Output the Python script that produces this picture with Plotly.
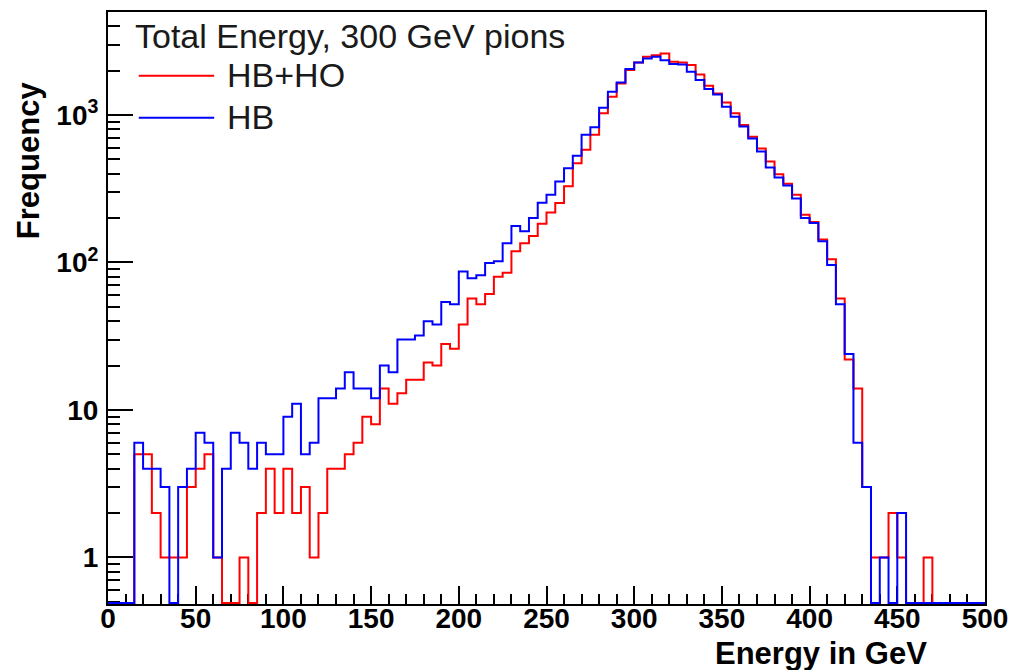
import plotly.graph_objects as go
import numpy as np

# ---- data (bin width 5 GeV, bins start at 0..495) ----
bin_width = 5
x_min, x_max = 0, 500

hb_ho = [0, 0, 0, 5, 5, 2, 1, 1, 1, 3,
         4, 5, 1, 0, 0, 1, 0, 2, 4, 2,
         4, 2, 3, 1, 2, 4, 4, 5, 6, 9,
         8, 14, 11, 13, 16, 16, 21, 20, 28, 26,
         38, 57, 52, 61, 80, 85, 119, 135, 151, 183,
         218, 253, 328, 471, 580, 733, 1025, 1330, 1636, 2014,
         2266, 2477, 2543, 2608, 2291, 2266, 2177, 1880, 1578, 1400,
         1217, 1025, 856, 713, 592, 483, 397, 342, 288, 211,
         188, 143, 105, 57, 22, 14, 3, 1, 1, 2,
         1, 0, 0, 1, 0, 0, 0, 0, 0, 0]

hb = [0, 0, 0, 6, 4, 4, 3, 0, 3, 4,
      7, 6, 1, 4, 7, 6, 4, 6, 5, 5,
      9, 11, 5, 6, 12, 12, 14, 18, 14, 14,
      12, 20, 18, 30, 30, 32, 40, 38, 54, 52,
      87, 78, 82, 99, 102, 135, 177, 163, 200, 254,
      288, 354, 436, 528, 733, 824, 1120, 1436, 1660, 2046,
      2266, 2412, 2477, 2353, 2213, 2198, 1962, 1723, 1498, 1378,
      1138, 974, 834, 692, 565, 441, 377, 333, 271, 200,
      185, 139, 96, 52, 24, 6, 3, 0, 1, 0,
      2, 0, 0, 0, 0, 0, 0, 0, 0, 0]

series_names = ["HB+HO", "HB"]
series_colors = ["#ff0000", "#0000ff"]
legend_title = "Total Energy, 300 GeV pions"

x_ticks = list(range(0, 501, 50))
y_ticks = [1, 10, 100, 1000]
y_tick_text = ["1", "10", "10<sup>2</sup>", "10<sup>3</sup>"]

# ---- layout geometry ----
W, H = 1018, 670
L, R, T, B = 108, 26, 10, 66
ylog_min, ylog_max = -0.3155, 3.698
pw, ph = W - L - R, H - T - B


def px_x(px):
    return (px - L) / pw


def px_y(py):
    return (H - B - py) / ph


edges = np.arange(x_min, x_max + bin_width, bin_width)
floor_val = 10 ** (ylog_min + 1.0 / ph * (ylog_max - ylog_min))

fig = go.Figure()
for name, vals, col in zip(series_names, [hb_ho, hb], series_colors):
    v = [c if c > 0 else floor_val for c in vals]
    v = v + [v[-1]]
    fig.add_trace(go.Scatter(x=edges, y=v, mode="lines", line_shape="hv",
                             line=dict(color=col, width=2), name=name,
                             showlegend=False, hoverinfo="skip"))

tick_font = dict(family="Liberation Sans, Arial, sans-serif", size=28,
                 color="#000000", weight="bold")

fig.update_layout(
    width=W, height=H,
    margin=dict(l=L, r=R, t=T, b=B, pad=0),
    paper_bgcolor="white", plot_bgcolor="white",
    xaxis=dict(range=[x_min, x_max], showgrid=False, zeroline=False,
               showline=True, mirror=True, linecolor="#000000", linewidth=2,
               ticks="inside", ticklen=18, tickwidth=1.5, tickcolor="#000000",
               tickvals=x_ticks, tickfont=tick_font, ticklabelstandoff=-12,
               minor=dict(tickvals=list(range(0, 501, 10)), ticks="inside",
                          ticklen=10, tickwidth=1.5, tickcolor="#000000"),
               layer="below traces"),
    yaxis=dict(type="log", range=[ylog_min, ylog_max], showgrid=False, zeroline=False,
               showline=True, mirror=True, linecolor="#000000", linewidth=2,
               ticks="inside", ticklen=25, tickwidth=1.5, tickcolor="#000000",
               tickvals=y_ticks, ticktext=y_tick_text, tickfont=tick_font,
               ticklabelstandoff=2,
               minor=dict(tickvals=[m * 10 ** e for e in range(-1, 4) for m in range(2, 10)
                                    if 0.48 < m * 10 ** e < 5000],
                          ticks="inside", ticklen=12, tickwidth=1.5, tickcolor="#000000"),
               layer="below traces"),
)

title_font = dict(family="Liberation Sans, Arial, sans-serif", size=31,
                  color="#000000", weight="bold")
fig.add_annotation(text="Frequency", xref="paper", yref="paper",
                   x=px_x(28), y=px_y(159), textangle=-90, showarrow=False,
                   xanchor="center", yanchor="middle", font=title_font)
fig.add_annotation(text="Energy in GeV", xref="paper", yref="paper",
                   x=px_x(936), y=px_y(654), showarrow=False,
                   xanchor="right", yanchor="middle", font=title_font)

leg_font = dict(family="Liberation Sans, Arial, sans-serif", size=34, color="#1a1a1a")
fig.add_annotation(text=legend_title, xref="paper", yref="paper",
                   x=px_x(133), y=px_y(34), showarrow=False,
                   xanchor="left", yanchor="middle", font=leg_font)
for i, (name, col) in enumerate(zip(series_names, series_colors)):
    yy = [74, 116][i]
    fig.add_shape(type="line", xref="paper", yref="paper",
                  x0=px_x(139), x1=px_x(215), y0=px_y(yy), y1=px_y(yy),
                  line=dict(color=col, width=2))
    fig.add_annotation(text=name, xref="paper", yref="paper",
                       x=px_x(226), y=px_y(yy - 1), showarrow=False,
                       xanchor="left", yanchor="middle", font=leg_font)

fig.write_html("out.html")
